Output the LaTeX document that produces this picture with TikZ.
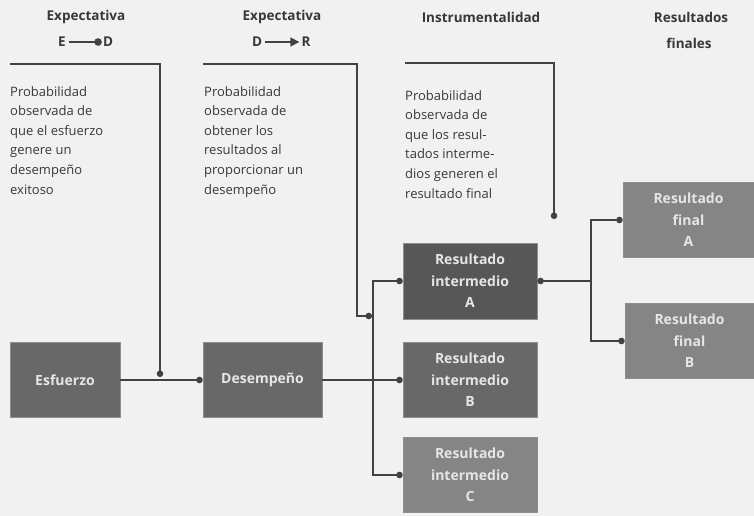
\documentclass[tikz,border=0pt]{standalone}
\usepackage{fontspec}
\setmainfont{Open Sans}
\usetikzlibrary{arrows.meta}
\definecolor{bg}{HTML}{F1F1F1}
\definecolor{ln}{HTML}{424242}
\definecolor{txt}{HTML}{383838}
\definecolor{boxdark}{HTML}{575757}
\definecolor{boxmid}{HTML}{686868}
\definecolor{boxlight}{HTML}{858585}
\definecolor{boxtxt}{HTML}{E6E6E6}
\tikzset{
  hdr/.style={font=\bfseries\fontsize{13.5}{16}\selectfont, text=txt, inner sep=0pt},
  desc/.style={font=\fontsize{13}{19.6}\selectfont, text=txt, align=left, anchor=north west, inner sep=0pt},
  stage/.style={draw=ln!60, line width=0.6pt, minimum height=75pt, inner sep=1pt, align=center,
    text=boxtxt, font=\bfseries\fontsize{14}{21.5}\selectfont},
  conn/.style={draw=ln, line width=1.7pt},
  dot/.style={-{Circle[length=6.5pt,width=6.5pt]}},
}
\begin{document}
\begin{tikzpicture}[x=1pt,y=-1pt]
\fill[bg] (0,0) rectangle (754,516);
\useasboundingbox (0,0) rectangle (754,516);

% headers
\node[hdr] (h1) at (86,17) {Expectativa};
\node[hdr] (e1) at (62,42) {E};
\node[hdr] (d1) at (108,42) {D};
\draw[conn, line width=1.4pt, shorten <=3pt, shorten >=1pt, -{Circle[length=7.5pt,width=7.5pt]}] (e1) -- (d1);
\node[hdr] (h2) at (282,17) {Expectativa};
\node[hdr] (d2) at (257,42) {D};
\node[hdr] (r2) at (306,42) {R};
\draw[conn, line width=1.4pt, shorten <=3pt, shorten >=2pt, -{Triangle[length=9pt,width=9pt]}] (d2) -- (r2);
\node[hdr] (h3) at (481,17) {Instrumentalidad};
\node[hdr] (h4) at (691,17) {Resultados};
\node[hdr] (h5) at (689,43) {finales};

% descriptions
\node[desc] (t1) at (10,86) {Probabilidad\\observada de\\que el esfuerzo\\genere un\\desempeño\\exitoso};
\node[desc] (t2) at (204,86) {Probabilidad\\observada de\\obtener los\\resultados al\\proporcionar un\\desempeño};
\node[desc] (t3) at (405,90) {Probabilidad\\observada de\\que los resul-\\tados interme-\\dios generen el\\resultado final};

% boxes
\node[stage, fill=boxmid, minimum width=110pt] (esf) at (65,380) {Esfuerzo};
\node[stage, fill=boxmid, minimum width=119pt] (des) at (262.5,380) {Desempeño};
\node[stage, fill=boxdark, minimum width=134pt, minimum height=76pt] (ia) at (470,281) {Resultado\\intermedio\\A};
\node[stage, fill=boxmid, minimum width=134pt] (ib) at (470,380) {Resultado\\intermedio\\B};
\node[stage, fill=boxlight, minimum width=134pt] (ic) at (470,475) {Resultado\\intermedio\\C};
\node[stage, fill=boxlight, minimum width=131pt] (fa) at (688.5,220) {Resultado\\final\\A};
\node[stage, fill=boxlight, minimum width=129pt] (fb) at (689.5,341) {Resultado\\final\\B};

% brackets
\coordinate (b1s) at (10,64);
\coordinate (b1e) at (160,377);
\draw[conn, dot] (b1s) -| (b1e);
\coordinate (b2s) at (203,64);
\coordinate (b2c) at (357,316);
\coordinate (b2e) at (372,316);
\draw[conn, dot] (b2s) -| (b2c) -- (b2e);
\coordinate (b3s) at (405,63);
\coordinate (b3e) at (554,219);
\draw[conn, dot] (b3s) -| (b3e);

% connectors
\draw[conn, dot] (esf) -- (des);
\draw[conn, dot] (des) -- (ib);
\coordinate (tr) at (373,380);
\draw[conn, dot] (tr) |- (ia.west);
\draw[conn, dot] (tr) |- (ic.west);
\coordinate (tr2) at (591,281);
\draw[conn, {Circle[length=6.5pt,width=6.5pt]}-] (ia) -- (tr2);
\draw[conn, dot] (tr2) |- (fa.west);
\draw[conn, dot] (tr2) |- (fb.west);
\end{tikzpicture}
\end{document}
